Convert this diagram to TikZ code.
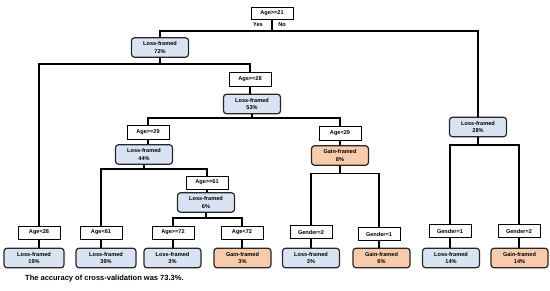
\documentclass[tikz,border=0pt]{standalone}
\usepackage{fontspec}
\setmainfont{Liberation Sans}
\definecolor{lossfill}{HTML}{DAE3F3}
\definecolor{gainfill}{HTML}{F8CBAD}
\begin{document}
\begin{tikzpicture}[x=1pt,y=-1pt,
  cond/.style={draw=black, line width=0.9pt, fill=white, rectangle, inner sep=0pt,
     minimum width=42pt, minimum height=13pt, font=\fontsize{5.6}{7}\selectfont\bfseries},
  res/.style={draw=black!85, line width=1.2pt, rounded corners=3pt, inner sep=0pt,
     minimum width=57pt, minimum height=19.5pt, align=center,
     font=\fontsize{5.6}{7.6}\selectfont\bfseries},
  loss/.style={res, fill=lossfill},
  gain/.style={res, fill=gainfill},
  conn/.style={line width=1.5pt, black},
  lbl/.style={font=\fontsize{5.6}{7}\selectfont\bfseries, inner sep=0pt}
]
\useasboundingbox (0,0) rectangle (550,290);
\fill[white] (0,0) rectangle (550,290);

% nodes
\node[cond, minimum height=12pt] (root) at (272,13) {Age>=21};
\node[lbl] (yes) at (258,25) {Yes};
\node[lbl] (no) at (282,25) {No};

\node[loss] (L72) at (160,47.5) {Loss-framed\\72\%};
\node[cond, minimum height=14pt] (A28ge) at (250,79) {Age>=28};
\node[loss] (L53) at (252,104) {Loss-framed\\53\%};
\node[cond, minimum height=14pt] (A29ge) at (148,132) {Age>=29};
\node[cond, minimum height=14pt] (A29lt) at (340,133) {Age<29};
\node[loss] (L28) at (478,127) {Loss-framed\\28\%};
\node[loss] (L44) at (144,154.5) {Loss-framed\\44\%};
\node[gain] (G8) at (340,155.5) {Gain-framed\\8\%};
\node[cond] (A61ge) at (207,182.5) {Age>=61};
\node[loss] (L6) at (206,202.5) {Loss-framed\\6\%};

\node[cond] (A28lt) at (39,232.5) {Age<28};
\node[cond] (A61lt) at (101,232.5) {Age<61};
\node[cond] (A72ge) at (173,232.5) {Age>=72};
\node[cond] (A72lt) at (242,232.5) {Age<72};
\node[cond] (G2a) at (311,232) {Gender=2};
\node[cond] (G1a) at (379,234) {Gender=1};
\node[cond] (G1b) at (450,231) {Gender=1};
\node[cond] (G2b) at (519,231) {Gender=2};

\node[loss, minimum width=60pt] (L19) at (34,258) {Loss-framed\\19\%};
\node[loss, minimum width=60pt] (L39) at (106,258) {Loss-framed\\39\%};
\node[loss] (L3a) at (172.5,258) {Loss-framed\\3\%};
\node[gain] (G3) at (242.5,258) {Gain-framed\\3\%};
\node[loss] (L3b) at (311,258) {Loss-framed\\3\%};
\node[gain] (G6) at (381.5,258) {Gain-framed\\6\%};
\node[loss] (L14) at (451,258) {Loss-framed\\14\%};
\node[gain] (G14) at (519.5,258) {Gain-framed\\14\%};

\node[anchor=west, inner sep=0pt, font=\fontsize{7.5}{9}\selectfont\bfseries] (cap) at (25,279) {The accuracy of cross-validation was 73.3\%.};

% bar levels
\coordinate (b0) at (0,31);
\coordinate (b1) at (0,64);
\coordinate (b2) at (0,118);
\coordinate (b3) at (0,145);
\coordinate (b4) at (0,169);
\coordinate (b5) at (0,173.5);
\coordinate (b6) at (0,218);

% connectors
\draw[conn] (root.south) -- (root.south |- b0);
\draw[conn] (L72.north) |- (root.south |- b0) -| (L28.north);

\draw[conn] (L72.south) -- (L72.south |- b1);
\draw[conn] (A28lt.north) |- (L72.south |- b1) -| (A28ge.north);
\draw[conn] (A28ge.south) -- (A28ge.south |- L53.north);

\draw[conn] (L53.south) -- (L53.south |- b2);
\draw[conn] (A29ge.north) |- (L53.south |- b2) -| (A29lt.north);

\draw[conn] (A29ge.south) -- (A29ge.south |- L44.north);
\draw[conn] (A29lt.south) -- (A29lt.south |- G8.north);

\draw[conn] (L44.south) -- (L44.south |- b4);
\draw[conn] (A61lt.north) |- (L44.south |- b4) -| (A61ge.north);
\draw[conn] (A61ge.south) -- (A61ge.south |- L6.north);

\draw[conn] (L6.south) -- (L6.south |- b6);
\draw[conn] (A72ge.north) |- (L6.south |- b6) -| (A72lt.north);

\draw[conn] (G8.south) -- (G8.south |- b5);
\draw[conn] (G2a.north) |- (G8.south |- b5) -| (G1a.north);

\draw[conn] (L28.south) -- (L28.south |- b3);
\draw[conn] (G1b.north) |- (L28.south |- b3) -| (G2b.north);

\draw[conn] (A28lt.south) -- (A28lt.south |- L19.north);
\draw[conn] (A61lt.south) -- (A61lt.south |- L39.north);
\draw[conn] (A72ge.south) -- (A72ge.south |- L3a.north);
\draw[conn] (A72lt.south) -- (A72lt.south |- G3.north);
\draw[conn] (G2a.south) -- (G2a.south |- L3b.north);
\draw[conn] (G1a.south) -- (G1a.south |- G6.north);
\draw[conn] (G1b.south) -- (G1b.south |- L14.north);
\draw[conn] (G2b.south) -- (G2b.south |- G14.north);
\end{tikzpicture}
\end{document}
